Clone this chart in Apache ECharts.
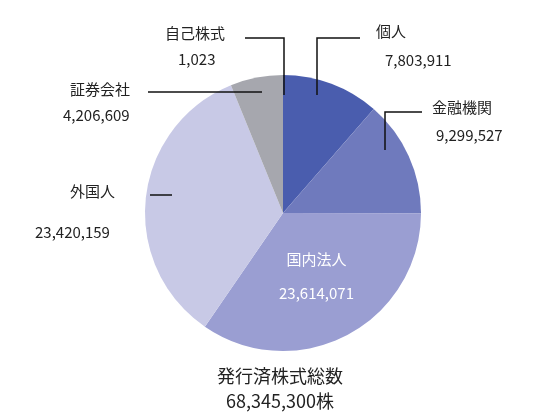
<!DOCTYPE html>
<html><head><meta charset="utf-8">
<script src="https://cdn.jsdelivr.net/npm/echarts@6/dist/echarts.min.js"></script>
<style>html,body{margin:0;background:#fff}#c{width:560px;height:420px}</style></head>
<body><div id="c"></div>
<script>
const categories = ['個人','金融機関','国内法人','外国人','証券会社','自己株式'];
const values = [7803911, 9299527, 23614071, 23420159, 4206609, 1023];
const colors = ['#4a5dae','#6f7abd','#9a9ed2','#c8c9e6','#a6a7ae','#8a8a90'];
const F = '"Noto Sans CJK JP", sans-serif';
const fmt = v => v.toLocaleString('en-US');
const chart = echarts.init(document.getElementById('c'));
const txt = (x,y,s,align) => ({type:'text',left:x,top:y,style:{text:s,font:'15px '+F,fill:'#222',textAlign:align||'center'}});
const line = pts => ({type:'polyline',shape:{points:pts},style:{stroke:'#111',lineWidth:1.5,fill:null},z:10});
chart.setOption({
  animation:false,
  series:[{
    type:'pie', center:[283,213], radius:[0,138], startAngle:90, clockwise:true,
    data: categories.map((n,i)=>({name:n,value:values[i],itemStyle:{color:colors[i]},
      label:{show:i===2}})),
    label:{position:'inside',color:'#fff',fontFamily:F,fontSize:15,lineHeight:34,
      formatter:p=>p.name+'\n'+fmt(p.value)},
    labelLine:{show:false}
  }],
  graphic:[
    txt(165,26,categories[5],'left'), txt(178,52,fmt(values[5]),'left'),
    line([[245,38],[284,38],[284,95]]),
    txt(376,24,categories[0],'left'), txt(385,53,fmt(values[0]),'left'),
    line([[317,95],[317,38],[360,38]]),
    txt(432,100,categories[1],'left'), txt(436,128,fmt(values[1]),'left'),
    line([[385,150],[385,112],[422,112]]),
    txt(70,82,categories[4],'left'), txt(63,108,fmt(values[4]),'left'),
    line([[148,92],[262,92]]),
    txt(70,184,categories[3],'left'), txt(35,225,fmt(values[3]),'left'),
    line([[150,195],[172,195]]),
    {type:'text',left:'center',top:367,style:{text:'発行済株式総数',font:'18px '+F,fill:'#222'}},
    {type:'text',left:'center',top:392,style:{text:fmt(values.reduce((a,b)=>a+b,0))+'株',font:'18px '+F,fill:'#222'}}
  ]
});
</script></body></html>
